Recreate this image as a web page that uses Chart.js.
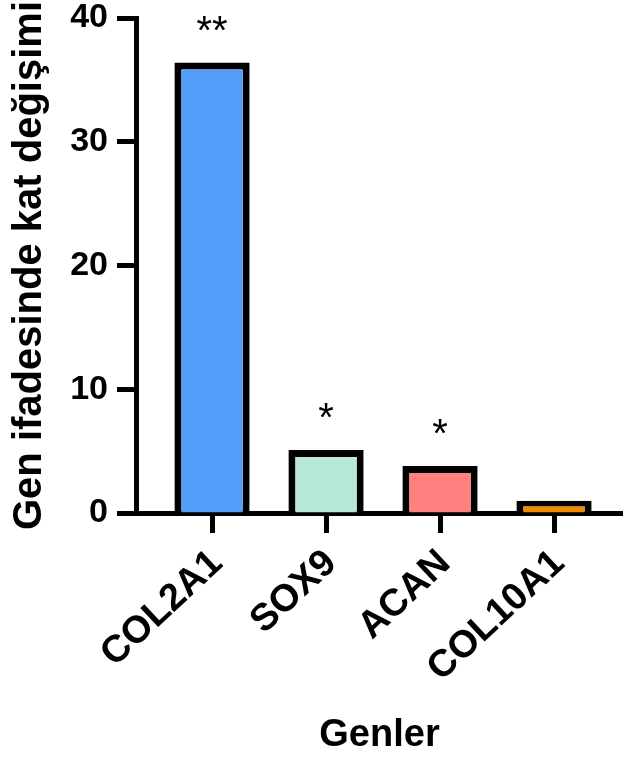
<!DOCTYPE html>
<html>
<head>
<meta charset="utf-8">
<script src="https://cdn.jsdelivr.net/npm/chart.js@4"></script>
<style>
  html, body { margin: 0; padding: 0; background: #fff; }
  #wrap { width: 623px; height: 761px; }
</style>
</head>
<body>
<div id="wrap"><canvas id="chart"></canvas></div>
<script>
const genes = ["COL2A1", "SOX9", "ACAN", "COL10A1"];
const foldChange = [36.4, 5.1, 3.8, 1.0];
const significance = ["**", "*", "*", ""];
const barColors = ["#539DFA", "#B6E8D5", "#FF8080", "#F28A00"];
const yTicks = [0, 10, 20, 30, 40];

const FONT = "Arial, 'Liberation Sans', sans-serif";

// asterisks above bars
const starsPlugin = {
  id: "stars",
  afterDatasetsDraw(chart) {
    const ctx = chart.ctx;
    const meta = chart.getDatasetMeta(0);
    ctx.save();
    ctx.fillStyle = "#000";
    ctx.font = "40px " + FONT;
    ctx.textAlign = "center";
    ctx.textBaseline = "alphabetic";
    meta.data.forEach((bar, i) => {
      if (significance[i]) ctx.fillText(significance[i], bar.x, bar.y - 19);
    });
    ctx.restore();
  },
};

// keep the axes where the reference has them
function fixBox(w, h) {
  return (scale) => {
    scale.paddingLeft = 0;
    scale.paddingRight = 0;
    scale.paddingTop = 0;
    scale.paddingBottom = 0;
    if (w) scale.width = w;
    if (h) scale.height = h;
  };
}

new Chart(document.getElementById("chart"), {
  type: "bar",
  data: {
    datasets: [
      {
        data: genes.map((g, i) => ({ x: i, y: foldChange[i] })),
        backgroundColor: barColors,
        borderColor: "#000",
        borderWidth: 7,
        borderSkipped: "start",
        categoryPercentage: 1,
        barPercentage: 0.66,
      },
    ],
  },
  plugins: [starsPlugin],
  options: {
    responsive: true,
    maintainAspectRatio: false,
    animation: false,
    layout: { padding: { top: 18, right: 0, bottom: 3, left: 6 } },
    plugins: { legend: { display: false }, tooltip: { enabled: false } },
    scales: {
      x: {
        type: "linear",
        min: -0.667,
        max: 3.605,
        offset: false,
        z: 1,
        afterBuildTicks: (scale) => {
          scale.ticks = genes.map((g, i) => ({ value: i }));
        },
        afterFit: fixBox(0, 245),
        grid: {
          offset: false,
          drawOnChartArea: false,
          drawTicks: true,
          tickLength: 20,
          tickWidth: 5,
          tickColor: "#000",
        },
        border: { color: "#000", width: 5 },
        ticks: {
          autoSkip: false,
          maxRotation: 43,
          minRotation: 43,
          color: "#000",
          padding: 8,
          labelOffset: 5,
          font: { family: FONT, size: 38, weight: "bold" },
          callback: (v) => genes[v] ?? "",
        },
        title: {
          display: true,
          text: "Genler",
          color: "#000",
          padding: { top: 0, bottom: 0 },
          font: { family: FONT, size: 38, weight: "bold" },
        },
      },
      y: {
        min: 0,
        max: 40,
        z: 1,
        afterBuildTicks: (scale) => {
          scale.ticks = yTicks.map((v) => ({ value: v }));
        },
        afterFit: fixBox(130, 0),
        grid: {
          drawOnChartArea: false,
          drawTicks: true,
          tickLength: 19,
          tickWidth: 5,
          tickColor: "#000",
        },
        border: { color: "#000", width: 5 },
        ticks: {
          color: "#000",
          padding: 9,
          font: { family: FONT, size: 34, weight: "bold" },
        },
        title: {
          display: true,
          text: "Gen ifadesinde kat değişimi",
          color: "#000",
          padding: { top: 0, bottom: 0 },
          font: { family: FONT, size: 40, weight: "bold" },
        },
      },
    },
  },
});
</script>
</body>
</html>
